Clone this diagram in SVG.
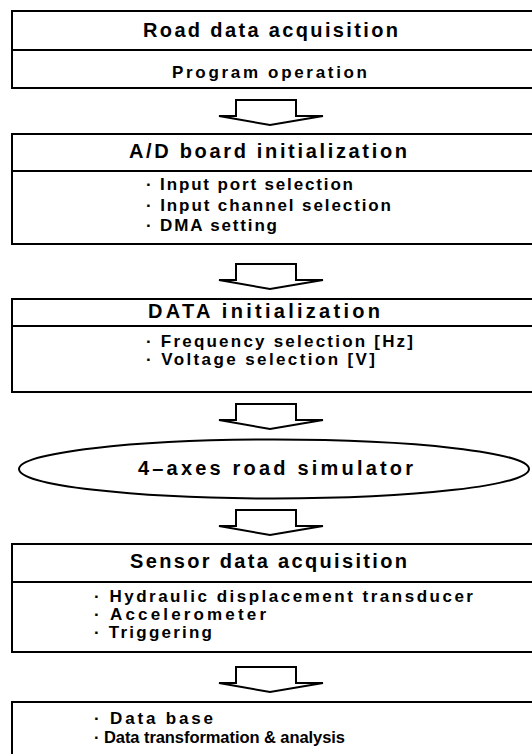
<svg xmlns="http://www.w3.org/2000/svg" width="532" height="754" viewBox="0 0 532 754">
  <defs>
    <!-- block arrow pointing down, drawn around its own origin (stem top-left) -->
    <polygon id="down" points="0,0 60,0 60,16 87,16 34,25 -17,16 0,16"/>
  </defs>
  <style>
    .box { fill: #fff; stroke: #000; stroke-width: 2; }
    .div { stroke: #000; stroke-width: 2; }
    .arrow { fill: #fff; stroke: #000; stroke-width: 2; stroke-linejoin: miter; }
    text { font-family: "Liberation Sans", Arial, sans-serif; font-weight: bold; fill: #000; }
    .hd { font-size: 20px; }
    .it { font-size: 17px; }
  </style>
  <rect width="532" height="754" fill="#fff"/>

  <g id="connectors">
    <use href="#down" class="arrow" x="236" y="100"/>
    <use href="#down" class="arrow" x="236" y="264"/>
    <use href="#down" class="arrow" x="236" y="404"/>
    <use href="#down" class="arrow" x="236" y="510"/>
    <use href="#down" class="arrow" x="236" y="667"/>
  </g>

  <g id="road-data">
    <rect class="box" x="12" y="11" width="540" height="77"/>
    <line class="div" x1="12" y1="50" x2="540" y2="50"/>
    <text class="hd" x="143" y="37" textLength="255" lengthAdjust="spacing">Road data acquisition</text>
    <text class="it" x="172" y="78" textLength="195" lengthAdjust="spacing">Program operation</text>
  </g>

  <g id="ad-board">
    <rect class="box" x="12" y="134" width="540" height="110"/>
    <line class="div" x1="12" y1="171" x2="540" y2="171"/>
    <text class="hd" x="129" y="158" textLength="278" lengthAdjust="spacing">A/D board initialization</text>
    <text class="it" x="146" y="190" textLength="207" lengthAdjust="spacing">· Input port selection</text>
    <text class="it" x="146" y="211" textLength="245" lengthAdjust="spacing">· Input channel selection</text>
    <text class="it" x="146" y="231" textLength="131" lengthAdjust="spacing">· DMA setting</text>
  </g>

  <g id="data-init">
    <rect class="box" x="12" y="299" width="540" height="93"/>
    <line class="div" x1="12" y1="326" x2="540" y2="326"/>
    <text class="hd" x="148" y="318" textLength="232" lengthAdjust="spacing">DATA initialization</text>
    <text class="it" x="146" y="347" textLength="267" lengthAdjust="spacing">· Frequency selection [Hz]</text>
    <text class="it" x="146" y="365" textLength="229" lengthAdjust="spacing">· Voltage selection [V]</text>
  </g>

  <g id="simulator">
    <ellipse class="box" cx="274" cy="469" rx="255" ry="29.5"/>
    <text class="hd" x="138" y="475" textLength="275" lengthAdjust="spacing">4–axes road simulator</text>
  </g>

  <g id="sensor-data">
    <rect class="box" x="12" y="544" width="540" height="108"/>
    <line class="div" x1="12" y1="582" x2="540" y2="582"/>
    <text class="hd" x="130" y="568" textLength="277" lengthAdjust="spacing">Sensor data acquisition</text>
    <text class="it" x="94" y="602" textLength="379" lengthAdjust="spacing">· Hydraulic displacement transducer</text>
    <text class="it" x="94" y="620" textLength="172" lengthAdjust="spacing">· Accelerometer</text>
    <text class="it" x="94" y="638" textLength="118" lengthAdjust="spacing">· Triggering</text>
  </g>

  <g id="database">
    <rect class="box" x="12" y="702" width="540" height="80"/>
    <text class="it" x="94" y="724" textLength="119" lengthAdjust="spacing">· Data base</text>
    <text class="it" x="94" y="743" textLength="251" lengthAdjust="spacing" style="font-size:16.5px">· Data transformation &amp; analysis</text>
  </g>
</svg>
